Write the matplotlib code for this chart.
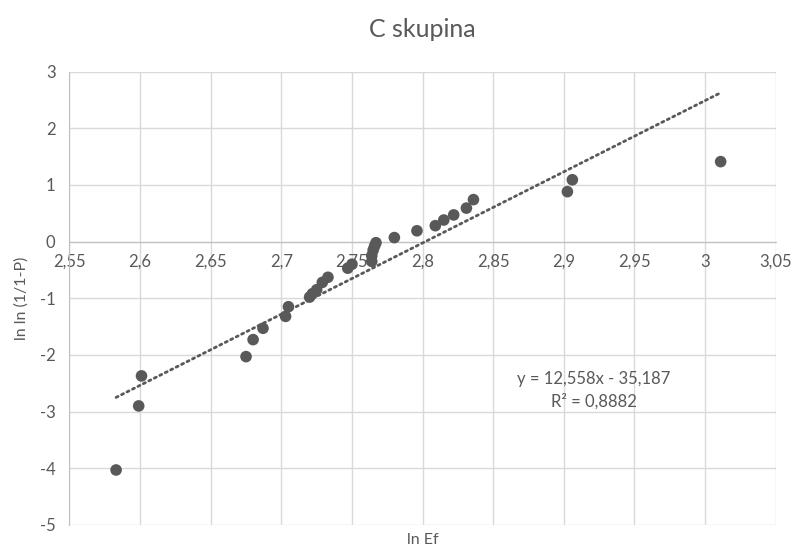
import numpy as np
import matplotlib
matplotlib.use("Agg")
from matplotlib import pyplot as plt

# data (ln Ef vs ln ln (1/1-P))
ln_ef = [2.583, 2.599, 2.601, 2.675, 2.680, 2.687, 2.703, 2.705,
         2.720, 2.722, 2.725, 2.729, 2.733, 2.747, 2.750,
         2.764, 2.764, 2.765, 2.766, 2.767,
         2.780, 2.796, 2.809, 2.815, 2.822, 2.831, 2.836,
         2.9025, 2.906, 3.011]
ln_ln_p = [-4.03, -2.90, -2.37, -2.03, -1.73, -1.53, -1.32, -1.15,
           -0.98, -0.92, -0.85, -0.72, -0.63, -0.47, -0.40,
           -0.35, -0.25, -0.15, -0.08, -0.02,
           0.07, 0.19, 0.28, 0.38, 0.47, 0.59, 0.74,
           0.88, 1.09, 1.41]

# trendline as given in the chart
slope = 12.558
intercept = -35.187
eq_text = "y = 12,558x - 35,187\nR² = 0,8882"

x_ticks = [2.55, 2.6, 2.65, 2.7, 2.75, 2.8, 2.85, 2.9, 2.95, 3.0, 3.05]
x_tick_labels = ["2,55", "2,6", "2,65", "2,7", "2,75", "2,8", "2,85", "2,9", "2,95", "3", "3,05"]
y_ticks = [-5, -4, -3, -2, -1, 0, 1, 2, 3]

plt.rcParams['font.family'] = ['Lato', 'DejaVu Sans']
plt.rcParams['axes.unicode_minus'] = False
txt_color = "#595959"

fig = plt.figure(figsize=(7.94, 5.5), dpi=100)
ax = fig.add_axes([0.0875, 0.0455, 0.8895, 0.8245])

ax.set_xlim(2.55, 3.05)
ax.set_ylim(-5, 3)

# dotted linear trendline over the data range
x_line = np.array([min(ln_ef), max(ln_ef)])
ax.plot(x_line, slope * x_line + intercept, color="#595959", lw=2.0,
        linestyle=(0, (0.8, 1.4)), dash_capstyle="round", zorder=3)

ax.scatter(ln_ef, ln_ln_p, s=70, color="#595959", edgecolors="none", zorder=4)

ax.set_xticks(x_ticks)
ax.set_xticklabels(x_tick_labels)
ax.set_yticks(y_ticks)
ax.grid(True, color="#d9d9d9", lw=1.0, zorder=0)
ax.set_axisbelow(True)

for side in ["top", "right"]:
    ax.spines[side].set_visible(False)
ax.spines["bottom"].set_position(("data", 0))
ax.spines["bottom"].set_color("#bfbfbf")
ax.spines["left"].set_color("#bfbfbf")
ax.tick_params(axis="both", length=0, labelsize=12, colors=txt_color)
ax.tick_params(axis="x", pad=9)
ax.tick_params(axis="y", pad=10)

ax.set_ylabel("ln ln (1/1-P)", fontsize=11.5, color=txt_color, labelpad=8)
fig.text(0.5 * (0.0875 + 0.977), 0.018, "ln Ef", ha="center", va="center",
         fontsize=11.5, color=txt_color)
fig.text(0.5 * (0.0875 + 0.977), 0.947, "C skupina", ha="center", va="center",
         fontsize=18, color=txt_color)

ax.text(2.921, -2.62, eq_text, ha="center", va="center", multialignment="center",
        fontsize=12, color=txt_color, linespacing=1.45)

plt.savefig("out.png", dpi=100)
